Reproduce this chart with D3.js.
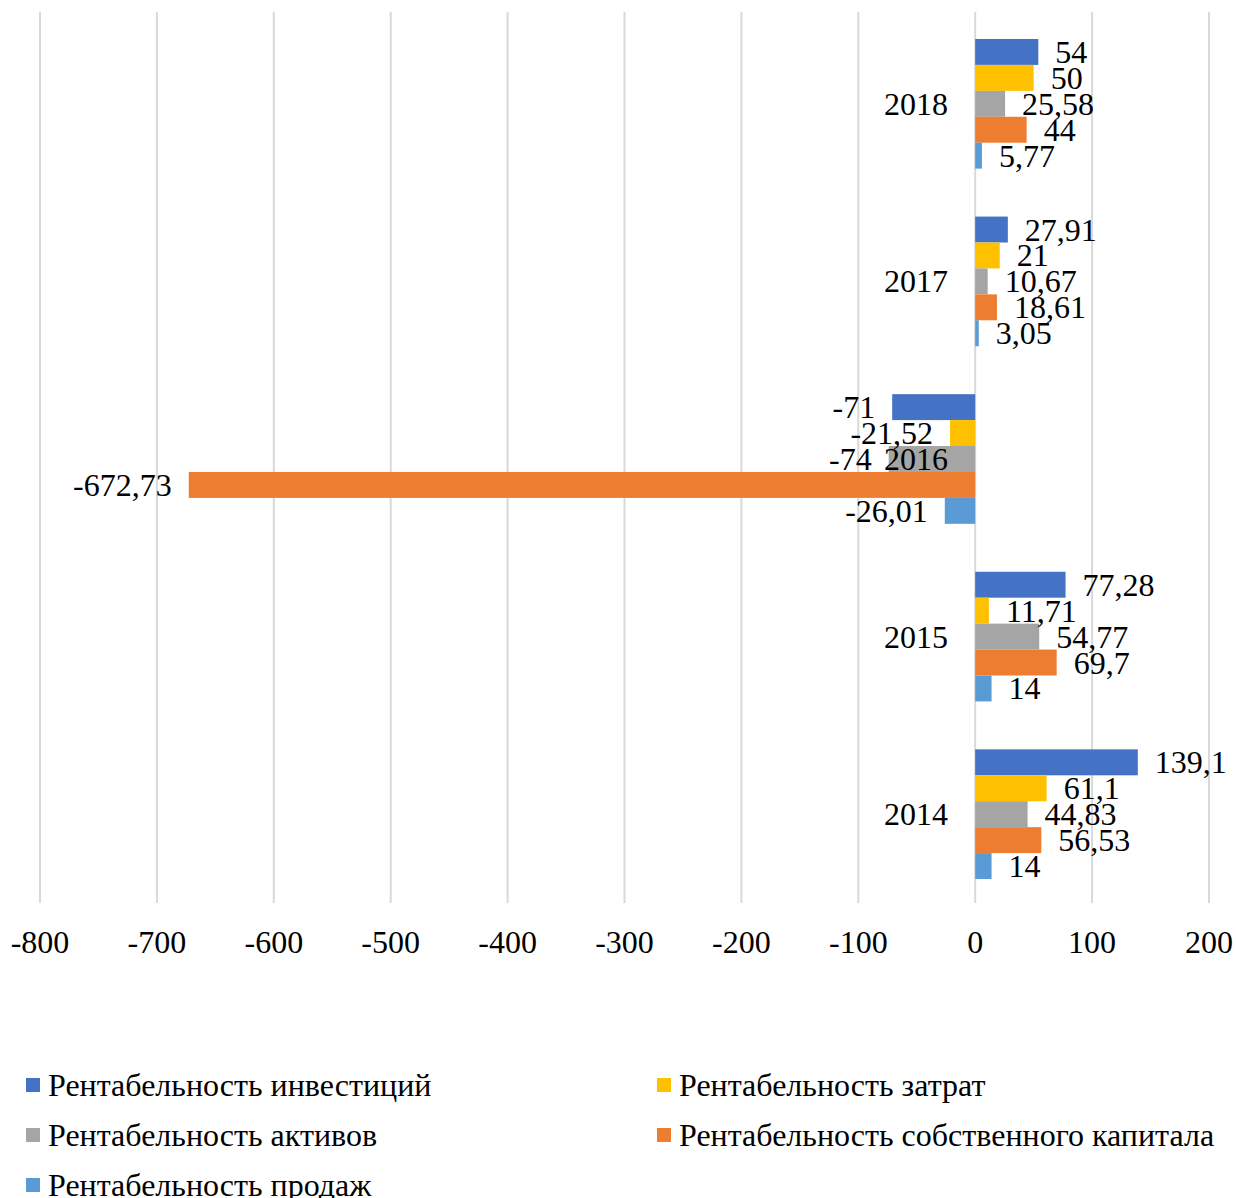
<!DOCTYPE html>
<html>
<head>
<meta charset="utf-8">
<script src="https://cdn.jsdelivr.net/npm/d3@7"></script>
<style>
  html, body { margin: 0; padding: 0; background: #fff; }
  svg text { font-family: "Liberation Serif", "Times New Roman", serif; fill: #000; }
</style>
</head>
<body>
<svg id="chart" width="1236" height="1198"></svg>
<script>
const years = ["2018", "2017", "2016", "2015", "2014"];
const seriesNames = [
  "Рентабельность инвестиций",
  "Рентабельность затрат",
  "Рентабельность активов",
  "Рентабельность собственного капитала",
  "Рентабельность продаж"
];
const seriesColors = ["#4472C4", "#FFC000", "#A5A5A5", "#ED7D31", "#5B9BD5"];
// values per year, in series order
const investments = [54, 27.91, -71, 77.28, 139.1];
const costs       = [50, 21, -21.52, 11.71, 61.1];
const assets      = [25.58, 10.67, -74, 54.77, 44.83];
const equity      = [44, 18.61, -672.73, 69.7, 56.53];
const sales       = [5.77, 3.05, -26.01, 14, 14];
const xTicks = [-800, -700, -600, -500, -400, -300, -200, -100, 0, 100, 200];

const seriesValues = [investments, costs, assets, equity, sales];
const FS = "32px";

const svg = d3.select("#chart");
const x = d3.scaleLinear().domain([-800, 200]).range([40, 1209]);
const y = d3.scaleBand().domain(years).range([15, 903]).paddingInner(0.27).paddingOuter(0.135);
const ySub = d3.scaleBand().domain(d3.range(seriesNames.length)).range([0, y.bandwidth()]).padding(0);

// gridlines
svg.append("g").selectAll("line").data(xTicks).join("line")
  .attr("x1", d => x(d)).attr("x2", d => x(d))
  .attr("y1", 12).attr("y2", 903)
  .attr("stroke", "#d9d9d9").attr("stroke-width", 2);

// tick labels
svg.append("g").selectAll("text").data(xTicks).join("text")
  .attr("x", d => x(d)).attr("y", 942)
  .attr("text-anchor", "middle").attr("dominant-baseline", "central")
  .style("font-size", FS)
  .text(d => d);

const flat = [];
years.forEach((yr, i) => {
  seriesValues.forEach((vals, s) => {
    flat.push({ year: yr, s, v: vals[i] });
  });
});

// bars
svg.append("g").selectAll("rect").data(flat).join("rect")
  .attr("x", d => x(Math.min(0, d.v)))
  .attr("width", d => Math.abs(x(d.v) - x(0)))
  .attr("y", d => y(d.year) + ySub(d.s))
  .attr("height", ySub.bandwidth())
  .attr("fill", d => seriesColors[d.s]);

// value labels
const fmt = v => String(v).replace(".", ",");
svg.append("g").selectAll("text").data(flat).join("text")
  .attr("x", d => d.v >= 0 ? x(d.v) + 17 : x(d.v) - 17)
  .attr("y", d => y(d.year) + ySub(d.s) + ySub.bandwidth() / 2)
  .attr("text-anchor", d => d.v >= 0 ? "start" : "end")
  .attr("dominant-baseline", "central")
  .style("font-size", FS)
  .text(d => fmt(d.v));

// category labels
svg.append("g").selectAll("text").data(years).join("text")
  .attr("x", 948)
  .attr("y", d => y(d) + y.bandwidth() / 2)
  .attr("text-anchor", "end").attr("dominant-baseline", "central")
  .style("font-size", FS)
  .text(d => d);

// legend
const legendPos = [
  { x: 26, y: 1085 }, { x: 657, y: 1085 },
  { x: 26, y: 1135 }, { x: 657, y: 1135 },
  { x: 26, y: 1185 }
];
const lg = svg.append("g").selectAll("g").data(seriesNames).join("g")
  .attr("transform", (d, i) => `translate(${legendPos[i].x},${legendPos[i].y})`);
lg.append("rect").attr("x", 0).attr("y", -7).attr("width", 14).attr("height", 14)
  .attr("fill", (d, i) => seriesColors[i]);
lg.append("text").attr("x", 22).attr("y", 0).attr("dominant-baseline", "central")
  .style("font-size", FS).text(d => d);
</script>
</body>
</html>
